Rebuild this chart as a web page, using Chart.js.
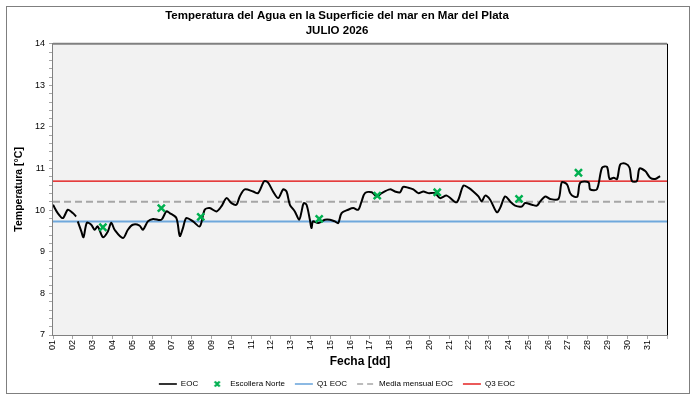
<!DOCTYPE html>
<html>
<head>
<meta charset="utf-8">
<script src="https://cdn.jsdelivr.net/npm/chart.js@4.4.1/dist/chart.umd.min.js"></script>
<style>
  body { margin: 0; background: #fff; }
  #wrap { position: relative; width: 696px; height: 400px; }
  #marco { position: absolute; left: 6px; top: 6px; width: 682px; height: 386px; border: 1px solid #7f7f7f; pointer-events: none; }
</style>
</head>
<body>
<div id="wrap">
  <canvas id="chart" width="696" height="400"></canvas>
  <div id="marco"></div>
</div>
<script>
// Datos (dia del mes, temperatura en °C)
var eocDia = [1.00, 1.24, 1.50, 1.75, 2.00, 2.17, 2.21, 2.25, 2.43, 2.54, 2.71, 2.93, 3.10, 3.26, 3.52, 3.77, 3.94,
    4.11, 4.53, 4.78, 5.03, 5.37, 5.54, 5.79, 6.05, 6.47, 6.72, 6.89, 7.23, 7.40, 7.56, 7.73, 8.07, 8.41,
    8.66, 8.91, 9.25, 9.50, 9.76, 10.01, 10.26, 10.43, 10.68, 11.10, 11.35, 11.61, 11.69, 11.86, 12.11,
    12.37, 12.62, 12.79, 12.96, 13.21, 13.43, 13.55, 13.66, 13.80, 13.97, 14.05, 14.13, 14.39, 14.73,
    14.98, 15.23, 15.40, 15.57, 15.90, 16.16, 16.41, 16.58, 16.75, 17.09, 17.34, 17.59, 18.01, 18.26,
    18.52, 18.68, 18.94, 19.19, 19.44, 19.70, 19.95, 20.29, 20.54, 20.88, 21.38, 21.72, 21.97, 22.22,
    22.48, 22.65, 22.82, 23.07, 23.41, 23.57, 23.83, 24.08, 24.33, 24.67, 24.84, 25.18, 25.43, 25.60,
    25.85, 26.10, 26.52, 26.69, 26.95, 27.11, 27.28, 27.48, 27.62, 28.04, 28.12, 28.46, 28.72, 28.97,
    29.10, 29.31, 29.48, 29.64, 29.90, 30.11, 30.23, 30.48, 30.61, 30.90, 31.15, 31.40, 31.65];
var eocTemp = [10.13, 9.93, 9.81, 10.01, 9.93, 9.85, null, 9.73, 9.49, 9.35, 9.70, 9.65, 9.53, 9.61, 9.35, 9.49, 9.70,
    9.53, 9.33, 9.53, 9.65, 9.63, 9.53, 9.73, 9.79, 9.77, 9.97, 9.93, 9.81, 9.38, 9.57, 9.81, 9.73, 9.61,
    10.01, 10.05, 9.97, 10.09, 10.29, 10.17, 10.13, 10.33, 10.50, 10.45, 10.41, 10.66, 10.70, 10.66, 10.45,
    10.29, 10.50, 10.45, 10.13, 9.97, 9.77, 9.97, 10.17, 10.13, 9.77, 9.57, 9.73, 9.69, 9.77,
    9.77, 9.73, 9.69, 9.93, 10.01, 10.05, 10.01, 10.21, 10.41, 10.43, 10.33, 10.41, 10.50, 10.45,
    10.43, 10.56, 10.54, 10.50, 10.41, 10.45, 10.41, 10.41, 10.29, 10.35, 10.19, 10.59, 10.54, 10.45,
    10.33, 10.21, 10.35, 10.25, 9.95, 10.05, 10.33, 10.21, 10.11, 10.09, 10.17, 10.13, 10.11, 10.21,
    10.33, 10.27, 10.27, 10.67, 10.62, 10.41, 10.33, 10.33, 10.66, 10.67, 10.50, 10.50, 11.02, 11.04,
    10.75, 10.78, 10.75, 11.10, 11.12, 11.02, 10.70, 10.70, 11.00, 10.94, 10.78, 10.75, 10.82];

var escolleraDia = [3.52, 6.47, 8.46, 14.44, 17.37, 20.40, 24.53, 27.53];
var escolleraTemp = [9.59, 10.05, 9.84, 9.79, 10.35, 10.43, 10.27, 10.90];

var q1Eoc = 9.73;
var mediaEoc = 10.20;
var q3Eoc = 10.70;

var diaInicio = 1;
var diaFin = 32;
var tempMin = 7;
var tempMax = 14;

function puntos(xs, ys) {
    return xs.map(function(x, i) { return { x: x, y: ys[i] }; });
}

function lineaHorizontal(valor) {
    return [{ x: diaInicio, y: valor }, { x: diaFin, y: valor }];
}

// Cruz verde para la leyenda
var cruzLeyenda = document.createElement('canvas');
cruzLeyenda.width = 8;
cruzLeyenda.height = 8;
(function() {
    var c = cruzLeyenda.getContext('2d');
    c.strokeStyle = '#00b050';
    c.lineWidth = 2.2;
    c.beginPath();
    c.moveTo(1.5, 1.5); c.lineTo(6.5, 6.5);
    c.moveTo(6.5, 1.5); c.lineTo(1.5, 6.5);
    c.stroke();
})();

// Fondo gris del area y bordes
var fondoPlot = {
    id: 'fondoPlot',
    beforeDatasetsDraw: function(chart) {
        var a = chart.chartArea, ctx = chart.ctx;
        ctx.save();
        ctx.fillStyle = '#f2f2f2';
        ctx.fillRect(a.left, a.top, a.right - a.left, a.bottom - a.top);
        ctx.restore();
    },
    afterDraw: function(chart) {
        var a = chart.chartArea, ctx = chart.ctx;
        ctx.save();
        ctx.strokeStyle = '#808080';
        ctx.lineWidth = 2;
        ctx.beginPath();
        ctx.moveTo(a.left, a.top);
        ctx.lineTo(a.right, a.top);
        ctx.stroke();
        ctx.strokeStyle = '#000';
        ctx.lineWidth = 1;
        ctx.beginPath();
        ctx.moveTo(a.right + 0.5, a.top);
        ctx.lineTo(a.right + 0.5, a.bottom);
        ctx.stroke();
        ctx.restore();
    }
};

var fuente = "'Liberation Sans', Arial, sans-serif";
Chart.defaults.font.family = fuente;
Chart.defaults.color = '#000';

var ctx = document.getElementById('chart');

var myChart = new Chart(ctx, {
    type: 'line',
    data: {
        datasets: [
            {
                label: 'EOC',
                data: puntos(eocDia, eocTemp),
                borderColor: '#000',
                backgroundColor: '#000',
                borderWidth: 2,
                pointRadius: 0,
                pointStyle: 'line',
                tension: 0.3,
                spanGaps: false,
                order: 2
            },
            {
                label: 'Escollera Norte',
                type: 'scatter',
                data: puntos(escolleraDia, escolleraTemp),
                borderColor: '#00b050',
                backgroundColor: '#00b050',
                pointStyle: 'crossRot',
                pointRadius: 5,
                pointBorderWidth: 2.5,
                showLine: false,
                order: 1
            },
            {
                label: 'Q1 EOC',
                data: lineaHorizontal(q1Eoc),
                borderColor: '#6fa8dc',
                backgroundColor: '#6fa8dc',
                borderWidth: 2,
                pointRadius: 0,
                pointStyle: 'line',
                order: 3
            },
            {
                label: 'Media mensual EOC',
                data: lineaHorizontal(mediaEoc),
                borderColor: '#a6a6a6',
                backgroundColor: '#a6a6a6',
                borderWidth: 2,
                borderDash: [7, 4],
                pointRadius: 0,
                pointStyle: 'line',
                order: 3
            },
            {
                label: 'Q3 EOC',
                data: lineaHorizontal(q3Eoc),
                borderColor: '#e00000',
                backgroundColor: '#e00000',
                borderWidth: 1.3,
                pointRadius: 0,
                pointStyle: 'line',
                order: 3
            }
        ]
    },
    options: {
        responsive: false,
        animation: false,
        layout: { padding: { left: 7, right: 29, top: 2, bottom: 2 } },
        plugins: {
            title: {
                display: true,
                text: ['Temperatura del Agua en la Superficie del mar en Mar del Plata', 'JULIO 2026'],
                font: { size: 11.5, weight: 'bold', lineHeight: 1.25 },
                color: '#000',
                padding: { top: 7, bottom: 6 }
            },
            legend: {
                position: 'bottom',
                labels: {
                    usePointStyle: true,
                    pointStyleWidth: 18,
                    boxHeight: 8,
                    padding: 10,
                    font: { size: 8 },
                    color: '#000',
                    generateLabels: function(chart) {
                        var items = Chart.defaults.plugins.legend.labels.generateLabels(chart);
                        items.sort(function(a, b) { return a.datasetIndex - b.datasetIndex; });
                        items.forEach(function(it) {
                            var ds = chart.data.datasets[it.datasetIndex];
                            if (it.datasetIndex === 1) {
                                it.pointStyle = cruzLeyenda;
                            } else {
                                it.lineWidth = Math.min(ds.borderWidth, 1.6);
                                it.strokeStyle = ds.borderColor;
                                it.lineDash = ds.borderDash ? [6, 4] : [];
                            }
                        });
                        return items;
                    }
                }
            },
            tooltip: { enabled: false }
        },
        scales: {
            x: {
                type: 'linear',
                min: diaInicio,
                max: diaFin,
                afterFit: function(scale) { scale.height = 35; },
                ticks: {
                    stepSize: 1,
                    autoSkip: false,
                    minRotation: 90,
                    maxRotation: 90,
                    padding: 1,
                    font: { size: 9 },
                    callback: function(v) {
                        if (v > 31) return '';
                        return (v < 10 ? '0' : '') + v;
                    }
                },
                grid: { drawOnChartArea: false, tickLength: 4, color: '#a6a6a6' },
                border: { color: '#808080', width: 2 },
                title: {
                    display: true,
                    text: 'Fecha [dd]',
                    font: { size: 12, weight: 'bold' },
                    padding: { top: 0, bottom: 1 }
                }
            },
            y: {
                min: tempMin,
                max: tempMax,
                afterFit: function(scale) { scale.width = 46; },
                ticks: {
                    stepSize: 0.2,
                    autoSkip: false,
                    padding: 4,
                    font: { size: 9 },
                    callback: function(v) {
                        var r = Math.round(v);
                        return Math.abs(v - r) < 1e-6 ? String(r) : '';
                    }
                },
                grid: { drawOnChartArea: false, tickLength: 4, color: '#a6a6a6' },
                border: { color: '#808080', width: 2 },
                title: {
                    display: true,
                    text: 'Temperatura [°C]',
                    font: { size: 10.5, weight: 'bold' },
                    padding: { top: 6, bottom: 0 }
                }
            }
        }
    },
    plugins: [fondoPlot]
});
</script>
</body>
</html>
